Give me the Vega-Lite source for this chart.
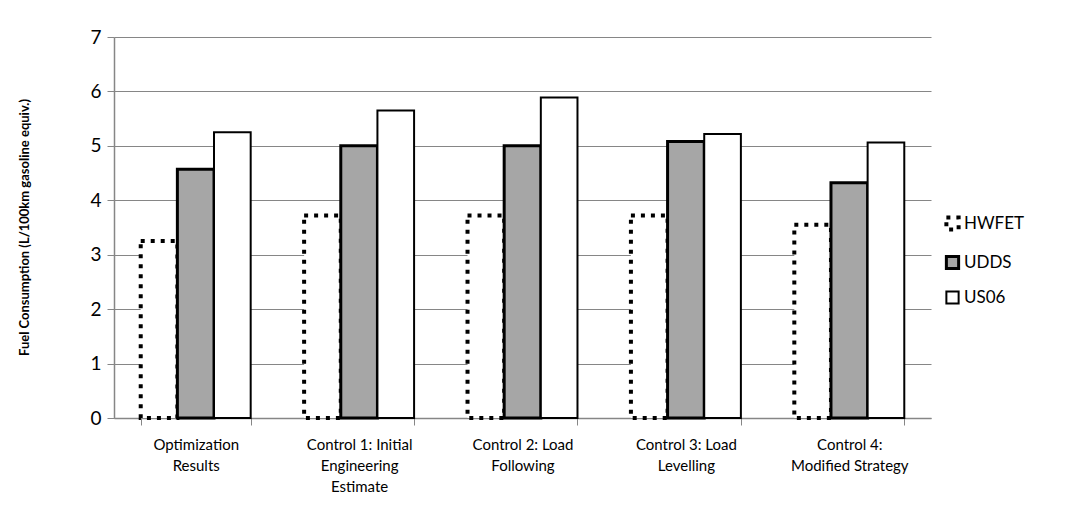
{
  "$schema": "https://vega.github.io/schema/vega-lite/v6.json",
  "autosize": "none",
  "width": 817,
  "height": 381,
  "padding": {"left": 114, "top": 37, "right": 157, "bottom": 105},
  "background": "#ffffff",
  "config": {
    "font": "Lato",
    "view": {"stroke": null}
  },
  "data": {
    "values": [
      {"case": "Optimization|Results", "cycle": "HWFET", "value": 3.25},
      {"case": "Optimization|Results", "cycle": "UDDS", "value": 4.57},
      {"case": "Optimization|Results", "cycle": "US06", "value": 5.25},
      {"case": "Control 1: Initial|Engineering|Estimate", "cycle": "HWFET", "value": 3.72},
      {"case": "Control 1: Initial|Engineering|Estimate", "cycle": "UDDS", "value": 5.0},
      {"case": "Control 1: Initial|Engineering|Estimate", "cycle": "US06", "value": 5.65},
      {"case": "Control 2: Load|Following", "cycle": "HWFET", "value": 3.72},
      {"case": "Control 2: Load|Following", "cycle": "UDDS", "value": 5.0},
      {"case": "Control 2: Load|Following", "cycle": "US06", "value": 5.89},
      {"case": "Control 3: Load|Levelling", "cycle": "HWFET", "value": 3.72},
      {"case": "Control 3: Load|Levelling", "cycle": "UDDS", "value": 5.08},
      {"case": "Control 3: Load|Levelling", "cycle": "US06", "value": 5.22},
      {"case": "Control 4:|Modified Strategy", "cycle": "HWFET", "value": 3.55},
      {"case": "Control 4:|Modified Strategy", "cycle": "UDDS", "value": 4.32},
      {"case": "Control 4:|Modified Strategy", "cycle": "US06", "value": 5.06}
    ]
  },
  "mark": {"type": "bar", "stroke": "#000000"},
  "encoding": {
    "x": {
      "field": "case",
      "type": "nominal",
      "sort": null,
      "scale": {"paddingInner": 0.327, "paddingOuter": 0.1635},
      "axis": {
        "title": null,
        "labelAngle": 0,
        "labelExpr": "split(datum.label, '|')",
        "labelFontSize": 15,
        "labelLineHeight": 21,
        "labelColor": "#000000",
        "labelPadding": 12,
        "labelLimit": 200,
        "tickBand": "extent",
        "tickColor": "#868686",
        "tickSize": 7,
        "domainColor": "#868686",
        "domainWidth": 1.5
      }
    },
    "xOffset": {"field": "cycle", "type": "nominal", "scale": {"paddingInner": 0, "paddingOuter": 0}},
    "y": {
      "field": "value",
      "type": "quantitative",
      "scale": {"domain": [0, 7], "nice": false},
      "axis": {
        "values": [0, 1, 2, 3, 4, 5, 6, 7],
        "title": "Fuel Consumption (L/100km gasoline equiv.)",
        "titleFontSize": 13,
        "titleFontWeight": "bold",
        "titleColor": "#000000",
        "titleX": -83,
        "titleY": 190,
        "titleAnchor": "middle",
        "labelFontSize": 19,
        "labelColor": "#000000",
        "labelPadding": 6,
        "tickColor": "#868686",
        "tickSize": 7,
        "domainColor": "#868686",
        "domainWidth": 1.5,
        "gridColor": "#868686",
        "gridWidth": 1.2,
        "gridOpacity": 1
      }
    },
    "fill": {
      "field": "cycle",
      "type": "nominal",
      "scale": {"domain": ["HWFET", "UDDS", "US06"], "range": ["#ffffff", "#a6a6a6", "#ffffff"]},
      "legend": {
        "title": null,
        "orient": "none",
        "legendX": 830,
        "legendY": 178,
        "symbolType": "square",
        "symbolSize": 150,
        "symbolStrokeColor": "#000000",
        "symbolStrokeWidth": 2,
        "labelFontSize": 17,
        "labelColor": "#000000",
        "labelOffset": 3,
        "rowPadding": 12
      }
    },
    "strokeDash": {
      "field": "cycle",
      "type": "nominal",
      "scale": {"domain": ["HWFET", "UDDS", "US06"], "range": [[4, 6], [1, 0], [1, 0]]}
    },
    "strokeWidth": {
      "field": "cycle",
      "type": "nominal",
      "scale": {"domain": ["HWFET", "UDDS", "US06"], "range": [4, 2, 2]}
    }
  }
}
